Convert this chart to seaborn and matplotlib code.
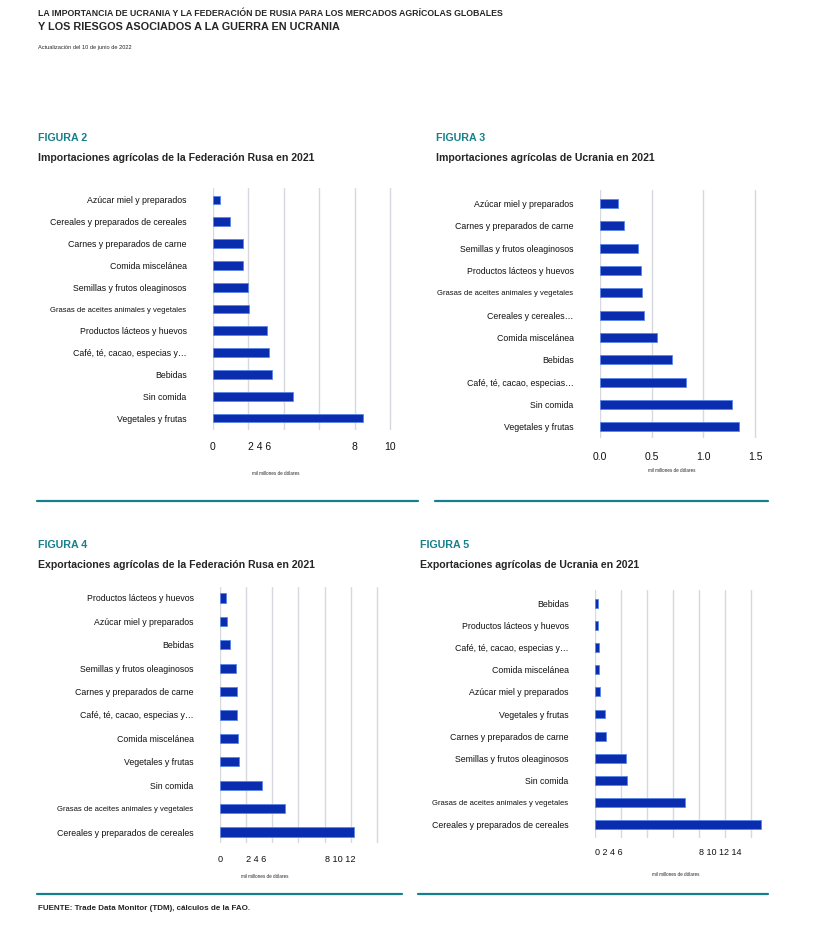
import matplotlib
matplotlib.use("Agg")
import matplotlib.pyplot as plt
import seaborn as sns

sns.set_style("white")
plt.rcParams['font.family'] = ['Liberation Sans', 'DejaVu Sans']

# data (mil millones de dólares)
cats_ru_imp = ["Azúcar miel y preparados", "Cereales y preparados de cereales",
               "Carnes y preparados de carne", "Comida miscelánea",
               "Semillas y frutos oleaginosos", "Grasas de aceites animales y vegetales",
               "Productos lácteos y huevos", "Café, té, cacao, especias y…",
               "Bebidas", "Sin comida", "Vegetales y frutas"]
vals_ru_imp = [0.42, 0.96, 1.68, 1.72, 1.96, 2.04, 3.04, 3.17, 3.34, 4.53, 8.45]

cats_ua_imp = ["Azúcar miel y preparados", "Carnes y preparados de carne",
               "Semillas y frutos oleaginosos", "Productos lácteos y huevos",
               "Grasas de aceites animales y vegetales", "Cereales y cereales…",
               "Comida miscelánea", "Bebidas", "Café, té, cacao, especias…",
               "Sin comida", "Vegetales y frutas"]
vals_ua_imp = [0.17, 0.23, 0.37, 0.40, 0.41, 0.43, 0.55, 0.70, 0.83, 1.28, 1.35]

cats_ru_exp = ["Productos lácteos y huevos", "Azúcar miel y preparados", "Bebidas",
               "Semillas y frutos oleaginosos", "Carnes y preparados de carne",
               "Café, té, cacao, especias y…", "Comida miscelánea",
               "Vegetales y frutas", "Sin comida",
               "Grasas de aceites animales y vegetales",
               "Cereales y preparados de cereales"]
vals_ru_exp = [0.44, 0.56, 0.77, 1.20, 1.33, 1.33, 1.38, 1.44, 3.18, 4.97, 10.26]

cats_ua_exp = ["Bebidas", "Productos lácteos y huevos", "Café, té, cacao, especias y…",
               "Comida miscelánea", "Azúcar miel y preparados", "Vegetales y frutas",
               "Carnes y preparados de carne", "Semillas y frutos oleaginosos",
               "Sin comida", "Grasas de aceites animales y vegetales",
               "Cereales y preparados de cereales"]
vals_ua_exp = [0.23, 0.26, 0.28, 0.31, 0.41, 0.79, 0.87, 2.38, 2.49, 6.97, 12.77]

W, H = 827, 948
TEAL = "#15808c"
BAR = "#0a2db0"
EDGE = "#5b86e6"

fig = plt.figure(figsize=(W / 100, H / 100), dpi=100)


def px_axes(x0, y0, x1, y1):
    return fig.add_axes([x0 / W, 1 - y1 / H, (x1 - x0) / W, (y1 - y0) / H])


def ftext(x, y, s, **kw):
    fig.text(x / W, 1 - y / H, s, **kw)


def panel(box, cats, vals, xlim, ylim, grid, ticklabels, left_labels, pad, tsize):
    ax = px_axes(*box)
    sns.barplot(x=vals, y=cats, ax=ax, orient="h", color=BAR, saturation=1,
                width=0.4, edgecolor=EDGE, linewidth=0.6, zorder=3)
    ax.set_xlim(*xlim)
    ax.set_ylim(*ylim)
    for g in grid:
        ax.axvline(g, color="#d6dadf", lw=1.0, zorder=1)
    ax.set_xticks(grid)
    ax.set_xticklabels(ticklabels, fontsize=tsize, color="#111111")
    for lab in ax.get_xticklabels():
        if lab.get_text() in left_labels:
            lab.set_horizontalalignment("left")
    ax.tick_params(axis="x", length=0, pad=pad)
    ax.tick_params(axis="y", length=0, pad=19)
    for lab in ax.get_yticklabels():
        lab.set_fontsize(5.5 if lab.get_text().startswith("Grasas") else 6.3)
        lab.set_color("#111111")
    for s in ax.spines.values():
        s.set_visible(False)
    ax.set_xlabel("")
    ax.set_ylabel("")
    ax.patch.set_alpha(0)
    return ax


# header
ftext(38, 14, "LA IMPORTANCIA DE UCRANIA Y LA FEDERACIÓN DE RUSIA PARA LOS MERCADOS AGRÍCOLAS GLOBALES",
      fontsize=6.3, fontweight="bold", va="center")
ftext(38, 27, "Y LOS RIESGOS ASOCIADOS A LA GUERRA EN UCRANIA",
      fontsize=7.8, fontweight="bold", va="center")
ftext(38, 47, "Actualización del 10 de junio de 2022", fontsize=4.1, va="center")

# figure headings
heads = [(38, 138, "FIGURA 2", "Importaciones agrícolas de la Federación Rusa en 2021"),
         (436, 138, "FIGURA 3", "Importaciones agrícolas de Ucrania en 2021"),
         (38, 545, "FIGURA 4", "Exportaciones agrícolas de la Federación Rusa en 2021"),
         (420, 545, "FIGURA 5", "Exportaciones agrícolas de Ucrania en 2021")]
for x, y, fnum, title in heads:
    ftext(x, y, fnum, fontsize=7.7, fontweight="bold", color=TEAL, va="center")
    ftext(x, y + 20, title, fontsize=7.6, fontweight="bold", va="center")

# panels
panel((213, 188, 395, 430), cats_ru_imp, vals_ru_imp, (0, 10.28), (10.55, -0.55),
      [0, 2, 4, 6, 8, 10], ["0", "2 4 6", "", "", "8", "10"], ["2 4 6"], 9, 7.5)
panel((600, 190, 780, 438), cats_ua_imp, vals_ua_imp, (0, 1.742), (10.5, -0.6),
      [0, 0.5, 1.0, 1.5], ["0.0", "0.5", "1.0", "1.5"], [], 10, 7.5)
panel((220, 587, 385, 843), cats_ru_exp, vals_ru_exp, (0, 12.63), (10.47, -0.47),
      [0, 2, 4, 6, 8, 10, 12], ["0", "2 4 6", "", "", "8 10 12", "", ""],
      ["2 4 6", "8 10 12"], 9, 6.6)
panel((595, 590, 770, 838), cats_ua_exp, vals_ua_exp, (0, 13.49), (10.6, -0.6),
      [0, 2, 4, 6, 8, 10, 12], ["0 2 4 6", "", "", "", "8 10 12 14", "", ""],
      ["0 2 4 6", "8 10 12 14"], 7, 6.5)

# axis captions
for x, y in [(276, 473), (672, 471), (265, 876), (676, 874)]:
    ftext(x, y, "mil millones de dólares", fontsize=3.3, ha="center", va="center")

# teal separator lines
for x0, x1, y in [(37, 418, 501), (435, 768, 501), (37, 402, 894), (418, 768, 894)]:
    fig.add_artist(plt.Line2D([x0 / W, x1 / W], [1 - y / H, 1 - y / H],
                              color=TEAL, lw=1.6, transform=fig.transFigure))

ftext(38, 908, "FUENTE: Trade Data Monitor (TDM), cálculos de la FAO.",
      fontsize=5.75, fontweight="bold", va="center")

fig.savefig("out.png", dpi=100)
